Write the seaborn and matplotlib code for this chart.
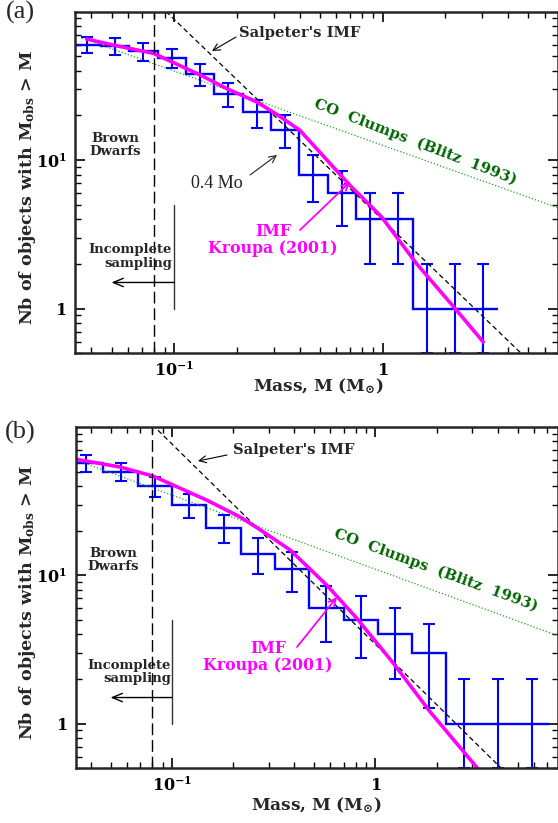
import numpy as np
import matplotlib
matplotlib.use("Agg")
import matplotlib.pyplot as plt
import seaborn as sns

# ---------------- data ----------------
# panel (a): cumulative counts N(>M) at bin centres
a_mass = [0.0380, 0.0520, 0.0711, 0.0973, 0.1330, 0.1820, 0.2489, 0.3404,
          0.4656, 0.6368, 0.8710, 1.191, 1.629, 2.228, 3.048]
a_count = [60, 59, 54, 49, 38, 28, 21, 16, 8, 6, 4, 4, 1, 1, 1]
a_err = [7.7, 7.7, 7.3, 7.0, 6.2, 5.3, 4.6, 4.0, 2.8, 2.4, 2.0, 2.0, 1.0, 1.0, 1.0]

# panel (b)
b_mass = [0.0380, 0.0560, 0.0826, 0.1218, 0.1795, 0.2646, 0.3899, 0.5747,
          0.8472, 1.249, 1.841, 2.714, 3.999, 5.895]
b_count = [57, 50, 40, 30, 21, 14, 11, 6, 5, 4, 3, 1, 1, 1]
b_err = [7.55, 7.07, 6.32, 5.48, 4.58, 3.74, 3.32, 2.45, 2.24, 2.0, 1.73, 1.0, 1.0, 1.0]

# Kroupa (2001) IMF curves
a_kroupa_m = [0.0380, 0.0509, 0.0792, 0.1327, 0.1782, 0.2483, 0.3097, 0.4009,
              0.6966, 0.9886, 1.455, 2.265, 3.041]
a_kroupa_n = [65.5, 59.6, 52.5, 37.6, 30.4, 24.7, 20.4, 15.9, 6.78, 4.15, 2.01, 0.975, 0.596]
b_kroupa_m = [0.0341, 0.0557, 0.0812, 0.1019, 0.1486, 0.2168, 0.2716, 0.3819,
              0.5781, 0.8128, 1.2303, 1.862, 3.221]
b_kroupa_n = [60.5, 53.7, 46.6, 40.5, 32.1, 24.7, 20.3, 14.8, 8.57, 5.11, 2.54, 1.197, 0.490]

# Salpeter's IMF (straight lines in log-log)
a_salp_m = [0.08, 5.0]
a_salp_n = [120.0, 0.45]
b_salp_m = [0.08, 5.0]
b_salp_n = [104.0, 0.39]

# CO clumps (Blitz 1993)
a_co_m = [0.036, 7.0]
a_co_n = [66.4, 4.76]
b_co_m = [0.036, 8.0]
b_co_n = [58.0, 3.89]

# limits / markers
bd_mass = 0.08            # brown dwarf limit
inc_mass = 0.1            # incomplete sampling limit
inc_n = [1.0, 5.0]
inc_arrow_m = [0.1, 0.05]
inc_arrow_n = 1.5

x_ticks = [0.1, 1.0]
x_ticklabels = [r'$\mathbf{10^{-1}}$', r'$\mathbf{1}$']
y_ticks = [1.0, 10.0]
y_ticklabels = [r'$\mathbf{1}$', r'$\mathbf{10^{1}}$']

# ---------------- style ----------------
sns.set_theme(style="ticks")
plt.rcParams['font.family'] = ['DejaVu Serif']
plt.rcParams['font.weight'] = 'bold'
plt.rcParams['mathtext.fontset'] = 'dejavuserif'
plt.rcParams['axes.linewidth'] = 1.8

W, H = 558, 823
fig = plt.figure(figsize=(W / 100, H / 100), dpi=100)


def F(px, py):
    return (px / W, 1 - py / H)


def panel(rect, xlim, mass, count, err, km, kn, sm, sn, cm, cn):
    ax = fig.add_axes(rect)
    ax.set_xscale('log')
    ax.set_yscale('log')
    # CO clumps line (green dotted)
    sns.lineplot(x=cm, y=cn, ax=ax, color='#2a9a2a', linewidth=0.9)
    ax.lines[-1].set_linestyle((0, (1.0, 1.6)))
    # histogram steps
    lc = np.log10(mass)
    mids = (lc[:-1] + lc[1:]) / 2
    edges = np.concatenate([[lc[0] - (mids[0] - lc[0])], mids,
                            [lc[-1] + (lc[-1] - mids[-1])]])
    ax.stairs(count, 10 ** edges, baseline=None, color='#0000ff', linewidth=1.7)
    cnt = np.array(count, float)
    e = np.array(err, float)
    lo = np.minimum(e, cnt - 0.5)
    ax.errorbar(mass, count, yerr=[lo, e], fmt='none', ecolor='#0000ff',
                elinewidth=1.5, capsize=4.5, capthick=1.5)
    # Salpeter dashed
    sns.lineplot(x=sm, y=sn, ax=ax, color='black', linewidth=0.9)
    ax.lines[-1].set_linestyle((0, (4.0, 2.6)))
    # Kroupa
    sns.lineplot(x=km, y=kn, ax=ax, color='#ff00ff', linewidth=2.6)
    # brown dwarf limit
    ax.axvline(bd_mass, color='black', linewidth=1.0, linestyle=(0, (8.5, 3.5)))
    # incomplete sampling
    ax.plot([inc_mass, inc_mass], inc_n, color='#333333', linewidth=1.0)
    ax.annotate('', xy=(inc_arrow_m[1], inc_arrow_n), xytext=(inc_arrow_m[0], inc_arrow_n),
                arrowprops=dict(arrowstyle='->,head_length=0.6,head_width=0.25',
                                color='black', lw=1.0, shrinkA=0, shrinkB=0))
    ax.set_xlim(*xlim)
    ax.set_ylim(0.5, 100)
    ax.set_xticks(x_ticks)
    ax.set_xticklabels(x_ticklabels)
    ax.set_yticks(y_ticks)
    ax.set_yticklabels(y_ticklabels)
    ax.tick_params(which='both', direction='in', top=True, right=True,
                   labelsize=11.5, colors='black')
    ax.tick_params(which='major', length=7, width=1.2, pad=6)
    ax.tick_params(which='minor', length=4, width=1.0)
    ax.set_xlabel('')
    ax.set_ylabel('')
    return ax


ax_a = panel([75 / W, 1 - 353.3 / H, (W - 75) / W, 341.6 / H], (0.0334, 6.95),
             a_mass, a_count, a_err, a_kroupa_m, a_kroupa_n,
             a_salp_m, a_salp_n, a_co_m, a_co_n)
ax_b = panel([75.7 / W, 1 - 768.3 / H, (W - 75.7) / W, 341.3 / H], (0.0337, 7.9),
             b_mass, b_count, b_err, b_kroupa_m, b_kroupa_n,
             b_salp_m, b_salp_n, b_co_m, b_co_n)

small = dict(fontsize=9.5, fontweight='bold', family='DejaVu Serif')
times = dict(family='Liberation Serif', fontweight='normal')


def txt(px, py, s, **kw):
    fig.text(*F(px, py), s, **kw)


def arrow(p_tail, p_head, color='black', lw=0.8):
    fig.add_artist(matplotlib.patches.FancyArrowPatch(
        F(*p_tail), F(*p_head), transform=fig.transFigure,
        arrowstyle='->,head_length=5,head_width=2.5', color=color, lw=lw,
        shrinkA=0, shrinkB=0))


ylab = r'Nb of objects with M$_{\mathbf{obs}}$ > M'
xlab = r'Mass, M (M$_{\odot}$)'

# ---- panel (a) annotations
txt(20, 12, '(a)', fontsize=19, ha='center', va='center', **times)
txt(239, 33, "Salpeter's IMF", ha='left', va='center', fontsize=10.6)
arrow((236, 37), (212, 51))
txt(115, 145, 'Brown\nDwarfs', ha='center', va='center', linespacing=1.05, **small)
txt(217, 184, '0.4 Mo', fontsize=13, ha='center', va='center', color='#222222', **times)
arrow((250, 175), (277, 155), color='#222222')
txt(415, 142, 'CO  Clumps  (Blitz  1993)', ha='center', va='center', rotation=-21,
    color='#006400', rotation_mode='anchor', fontsize=10.8)
txt(273, 240, 'IMF\nKroupa (2001)', ha='center', va='center', color='#ff00ff',
    linespacing=1.0, fontsize=11.3)
arrow((300, 230), (350, 182), color='#ff00ff', lw=1.3)
txt(172, 256.5, 'Incomplete\nsampling', ha='right', va='center', linespacing=1.0, **small)
txt(28, 187, ylab, rotation=90, ha='center', va='center', fontsize=12.6)
txt(318, 386, xlab, ha='center', va='center', fontsize=12.2)

# ---- panel (b) annotations
txt(20, 432, '(b)', fontsize=19, ha='center', va='center', **times)
txt(233, 450, "Salpeter's IMF", ha='left', va='center', fontsize=10.6)
arrow((227, 455), (198, 461))
txt(113, 560, 'Brown\nDwarfs', ha='center', va='center', linespacing=1.05, **small)
txt(436, 570, 'CO  Clumps  (Blitz  1993)', ha='center', va='center', rotation=-20,
    color='#006400', rotation_mode='anchor', fontsize=10.8)
txt(268, 657, 'IMF\nKroupa (2001)', ha='center', va='center', color='#ff00ff',
    linespacing=1.0, fontsize=11.3)
arrow((297, 647), (337, 597), color='#ff00ff', lw=1.3)
txt(171, 672, 'Incomplete\nsampling', ha='right', va='center', linespacing=1.0, **small)
txt(28, 602, ylab, rotation=90, ha='center', va='center', fontsize=12.6)
txt(316, 805, xlab, ha='center', va='center', fontsize=12.2)

fig.savefig('out.png', dpi=100)
